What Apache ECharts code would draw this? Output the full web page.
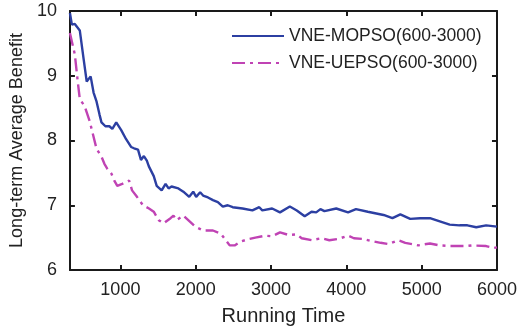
<!DOCTYPE html>
<html>
<head>
<meta charset="utf-8">
<script src="https://cdn.jsdelivr.net/npm/echarts@6/dist/echarts.min.js"></script>
<style>
  html, body { margin: 0; padding: 0; background: #fff; }
  #chart { width: 520px; height: 331px; }
</style>
</head>
<body>
<div id="chart"></div>
<script>
  // series names
  const seriesNames = ['VNE-MOPSO(600-3000)', 'VNE-UEPSO(600-3000)'];

  // running time ticks
  const xTicks = [1000, 2000, 3000, 4000, 5000, 6000];

  // VNE-MOPSO: [running time, benefit]
  const mopsoTime = [330, 356, 395, 461, 513, 553, 605, 644, 684, 723, 749, 801, 854, 893, 945,
    1011, 1076, 1142, 1181, 1234, 1273, 1312, 1351, 1378, 1443, 1482, 1548, 1600, 1640, 1679,
    1770, 1836, 1914, 1967, 2006, 2059, 2098, 2163, 2229, 2294, 2360, 2425, 2491, 2622, 2753,
    2844, 2884, 3015, 3119, 3250, 3342, 3447, 3538, 3600, 3656, 3709, 3866, 4023, 4128, 4285,
    4494, 4612, 4717, 4848, 4979, 5110, 5241, 5372, 5503, 5607, 5725, 5856, 6000];
  const mopsoValue = [9.97, 9.79, 9.8, 9.7, 9.25, 8.91, 8.99, 8.74, 8.6, 8.4, 8.28, 8.22, 8.22, 8.18, 8.28,
    8.16, 8.02, 7.9, 7.88, 7.86, 7.7, 7.76, 7.69, 7.6, 7.45, 7.3, 7.23, 7.33, 7.26, 7.29,
    7.26, 7.21, 7.13, 7.21, 7.13, 7.2, 7.15, 7.12, 7.08, 7.05, 6.98, 7.0, 6.97, 6.95, 6.92,
    6.97, 6.92, 6.95, 6.89, 6.98, 6.92, 6.83, 6.9, 6.89, 6.94, 6.91, 6.95, 6.89, 6.94, 6.9,
    6.85, 6.8, 6.86, 6.79, 6.8, 6.8, 6.75, 6.7, 6.69, 6.69, 6.66, 6.69, 6.67];

  // VNE-UEPSO: [running time, benefit]
  const uepsoTime = [330, 395, 435, 461, 526, 592, 684, 749, 788, 828, 880, 919, 959, 1024, 1116,
    1155, 1220, 1300, 1380, 1443, 1509, 1574, 1666, 1705, 1744, 1836, 1901, 1993, 2098, 2229,
    2334, 2451, 2517, 2595, 2713, 2792, 2923, 3015, 3119, 3237, 3342, 3407, 3538, 3669, 3774,
    3892, 4023, 4101, 4219, 4324, 4455, 4560, 4691, 4782, 4953, 5110, 5241, 5372, 5594, 5673,
    5856, 5961, 6000];
  const uepsoValue = [9.66, 9.33, 8.9, 8.64, 8.53, 8.3, 7.87, 7.75, 7.64, 7.56, 7.49, 7.38, 7.3, 7.33, 7.38,
    7.23, 7.13, 7.0, 6.95, 6.9, 6.77, 6.72, 6.8, 6.84, 6.77, 6.84, 6.77, 6.67, 6.61, 6.61,
    6.56, 6.38, 6.38, 6.44, 6.48, 6.5, 6.53, 6.52, 6.58, 6.54, 6.55, 6.49, 6.46, 6.49, 6.46,
    6.48, 6.53, 6.49, 6.48, 6.45, 6.42, 6.4, 6.46, 6.42, 6.38, 6.41, 6.38, 6.37, 6.37, 6.38,
    6.37, 6.34, 6.35];

  const font = '"Liberation Sans", Arial, sans-serif';
  const axisColor = '#1a1a1a';
  const textColor = '#222';

  const chart = echarts.init(document.getElementById('chart'));

  const xBase = {
    type: 'value',
    min: 330,
    max: 6000,
    axisLine: { show: true, onZero: false, lineStyle: { color: axisColor, width: 2 } },
    splitLine: { show: false },
  };
  const yBase = {
    type: 'value',
    min: 6,
    max: 10,
    interval: 1,
    axisLine: { show: true, onZero: false, lineStyle: { color: axisColor, width: 2 } },
    splitLine: { show: false },
  };

  const option = {
    animation: false,
    backgroundColor: '#fff',
    grid: { left: 65, right: 22, top: 11, bottom: 59 },
    legend: {
      orient: 'vertical',
      left: 231,
      top: 27,
      padding: 0,
      itemWidth: 52,
      itemHeight: 14,
      itemGap: 9,
      itemStyle: { opacity: 0 },
      textStyle: { fontFamily: font, fontSize: 17.5, color: textColor },
      data: seriesNames,
    },
    xAxis: [
      Object.assign({}, xBase, {
        position: 'bottom',
        name: 'Running Time',
        nameLocation: 'middle',
        nameGap: 36,
        nameTextStyle: { fontFamily: font, fontSize: 20, color: textColor },
        axisTick: { show: true, inside: true, length: 5, customValues: xTicks,
          lineStyle: { color: axisColor, width: 2 } },
        axisLabel: { show: true, margin: 11, customValues: xTicks,
          formatter: (v) => String(v),
          fontFamily: font, fontSize: 18, color: textColor },
      }),
      Object.assign({}, xBase, {
        position: 'top',
        axisTick: { show: true, inside: true, length: 5, customValues: xTicks,
          lineStyle: { color: axisColor, width: 2 } },
        axisLabel: { show: false },
      }),
    ],
    yAxis: [
      Object.assign({}, yBase, {
        position: 'left',
        name: 'Long-term Average Benefit',
        nameLocation: 'middle',
        nameGap: 28,
        nameTextStyle: { fontFamily: font, fontSize: 18, color: textColor },
        axisTick: { show: true, inside: true, length: 5, lineStyle: { color: axisColor, width: 2 } },
        axisLabel: { margin: 13, fontFamily: font, fontSize: 18, color: textColor },
      }),
      Object.assign({}, yBase, {
        position: 'right',
        axisTick: { show: true, inside: true, length: 5, lineStyle: { color: axisColor, width: 2 } },
        axisLabel: { show: false },
      }),
    ],
    series: [
      {
        name: seriesNames[0],
        type: 'line',
        symbol: 'none',
        color: '#2c3fa2',
        lineStyle: { width: 2.4, color: '#2c3fa2' },
        data: mopsoTime.map((t, i) => [t, mopsoValue[i]]),
      },
      {
        name: seriesNames[1],
        type: 'line',
        symbol: 'none',
        color: '#c043b4',
        lineStyle: { width: 2.4, color: '#c043b4', type: [13, 5, 3, 5] },
        data: uepsoTime.map((t, i) => [t, uepsoValue[i]]),
      },
    ],
  };

  chart.setOption(option);
</script>
</body>
</html>
